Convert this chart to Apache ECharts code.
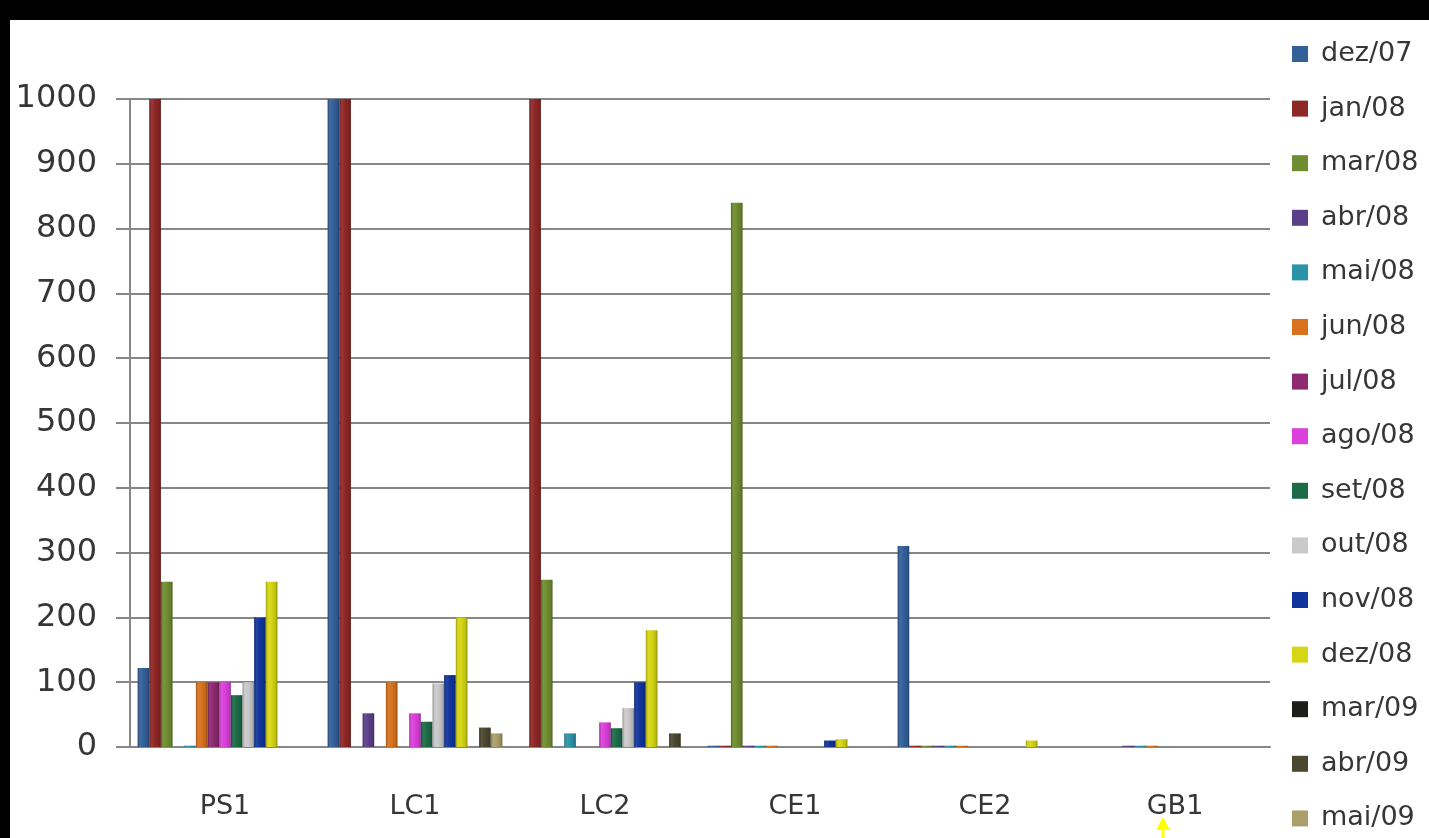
<!DOCTYPE html>
<html>
<head>
<meta charset="utf-8">
<script src="https://cdn.jsdelivr.net/npm/echarts@6/dist/echarts.min.js"></script>
<style>
  html, body { margin: 0; padding: 0; background: #000; width: 1429px; height: 838px; overflow: hidden; }
  #chart { position: absolute; left: 10px; top: 20px; width: 1419px; height: 818px; background: #fff; }
</style>
</head>
<body>
<div id="chart"></div>
<script>
// Sampling sites (categories)
const sites = ['PS1', 'LC1', 'LC2', 'CE1', 'CE2', 'GB1'];

// Sampling campaigns (series names)
const months = ['dez/07', 'jan/08', 'mar/08', 'abr/08', 'mai/08', 'jun/08', 'jul/08',
  'ago/08', 'set/08', 'out/08', 'nov/08', 'dez/08', 'mar/09', 'abr/09', 'mai/09'];

// Values per campaign, one entry per site (PS1, LC1, LC2, CE1, CE2, GB1)
const dez07 = [122, 1000, 0, 2, 310, 0];
const jan08 = [1000, 1000, 1000, 2, 2, 0];
const mar08 = [255, 0, 258, 840, 2, 0];
const abr08 = [0, 52, 0, 2, 2, 2];
const mai08 = [2, 0, 21, 2, 2, 2];
const jun08 = [100, 100, 0, 2, 2, 2];
const jul08 = [100, 0, 0, 0, 0, 0];
const ago08 = [100, 52, 38, 0, 0, 0];
const set08 = [80, 39, 29, 0, 0, 0];
const out08 = [100, 98, 60, 0, 0, 0];
const nov08 = [200, 111, 100, 10, 0, 0];
const dez08 = [255, 200, 180, 12, 10, 0];
const mar09 = [0, 0, 0, 0, 0, 0];
const abr09 = [0, 30, 21, 0, 0, 0];
const mai09 = [0, 21, 0, 0, 0, 0];

const seriesValues = [dez07, jan08, mar08, abr08, mai08, jun08, jul08,
  ago08, set08, out08, nov08, dez08, mar09, abr09, mai09];

// Y axis ticks
const yMin = 0, yMax = 1000, yStep = 100;

const palette = ['#33609a', '#8e2725', '#6f8d2f', '#5b3f88', '#2b93a8', '#d8721e', '#8e2a70',
  '#dc3fdc', '#1c6b47', '#c9c9c9', '#10349b', '#d6d614', '#1e1e19', '#4b4731', '#a99f6b'];

function shade(hex, f) {
  const n = parseInt(hex.slice(1), 16);
  let r = (n >> 16) & 255, g = (n >> 8) & 255, b = n & 255;
  const adj = c => f < 0 ? Math.round(c * (1 + f)) : Math.round(c + (255 - c) * f);
  r = adj(r); g = adj(g); b = adj(b);
  return '#' + ((1 << 24) | (r << 16) | (g << 8) | b).toString(16).slice(1);
}

// Horizontal shading that gives each column a rounded, bevelled look
function bevel(hex) {
  return new echarts.graphic.LinearGradient(0, 0, 1, 0, [
    { offset: 0, color: shade(hex, -0.25) },
    { offset: 0.2, color: shade(hex, 0.08) },
    { offset: 0.5, color: hex },
    { offset: 0.85, color: shade(hex, -0.12) },
    { offset: 1, color: shade(hex, -0.35) }
  ]);
}

const gridColor = '#878787';
const textColor = '#363636';
const fontFamily = 'DejaVu Sans, sans-serif';

const series = months.map((name, i) => ({
  name: name,
  type: 'bar',
  data: seriesValues[i],
  barGap: '0%',
  barCategoryGap: '8%',
  itemStyle: { color: bevel(palette[i]) },
  emphasis: { disabled: true }
}));

const chart = echarts.init(document.getElementById('chart'), null, { renderer: 'canvas' });
chart.setOption({
  animation: false,
  backgroundColor: '#ffffff',
  color: palette,
  grid: { left: 120, right: 159, top: 79, bottom: 91, containLabel: false, outerBoundsMode: 'none' },
  legend: {
    orient: 'vertical',
    left: 1282,
    top: 20,
    padding: 0,
    icon: 'rect',
    itemWidth: 16,
    itemHeight: 16,
    itemGap: 26.6,
    selectedMode: false,
    data: months.map((m, i) => ({ name: m, itemStyle: { color: palette[i] } })),
    textStyle: {
      fontFamily: fontFamily,
      fontSize: 27,
      color: textColor,
      lineHeight: 28,
      padding: [0, 0, 0, 8]
    }
  },
  xAxis: {
    type: 'category',
    data: sites,
    axisLine: { show: true, lineStyle: { color: gridColor, width: 2 } },
    axisTick: { show: false },
    axisLabel: { fontFamily: fontFamily, fontSize: 27, color: textColor, margin: 46 },
    splitLine: { show: false }
  },
  yAxis: {
    type: 'value',
    min: yMin,
    max: yMax,
    interval: yStep,
    axisLine: { show: true, lineStyle: { color: gridColor, width: 2 } },
    axisTick: { show: true, length: 14, lineStyle: { color: gridColor, width: 2 } },
    axisLabel: {
      fontFamily: fontFamily, fontSize: 32, color: textColor, margin: 33,
      formatter: v => String(v)
    },
    splitLine: { show: true, lineStyle: { color: gridColor, width: 2 } }
  },
  graphic: [
    {
      type: 'polygon',
      shape: { points: [[1153, 797], [1146, 810], [1160, 810]] },
      style: { fill: '#ffff00' },
      silent: true
    },
    {
      type: 'rect',
      shape: { x: 1151.5, y: 810, width: 3, height: 8 },
      style: { fill: '#ffff00' },
      silent: true
    }
  ],
  series: series
});
</script>
</body>
</html>
